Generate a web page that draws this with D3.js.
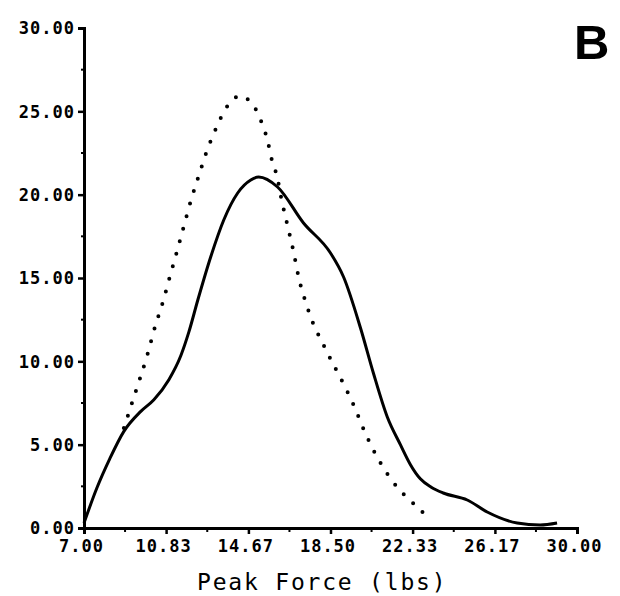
<!DOCTYPE html>
<html>
<head>
<meta charset="utf-8">
<script src="https://cdn.jsdelivr.net/npm/d3@7"></script>
<style>
  html, body { margin: 0; padding: 0; background: #fff; }
  svg { display: block; }
</style>
</head>
<body>
<svg id="chart" width="620" height="596"></svg>
<script>
/*
Data
*/

// x ticks (lbs) and y ticks
var xTicks = [7.00, 10.83, 14.67, 18.50, 22.33, 26.17, 30.00];
var xTickLabels = ["7.00", "10.83", "14.67", "18.50", "22.33", "26.17", "30.00"];
var yTicks = [0, 5, 10, 15, 20, 25, 30];
var yTickLabels = ["0.00", "5.00", "10.00", "15.00", "20.00", "25.00", "30.00"];

// solid curve
var solidX = [7.00, 7.60, 8.20, 8.86, 9.65, 10.26, 10.96, 11.52, 11.89, 12.31, 12.91, 13.52, 14.17, 14.78, 15.15, 16.03, 17.24, 18.50, 19.11, 19.90, 20.50, 21.15, 21.76, 22.23, 22.69, 23.20, 23.76, 24.88, 25.81, 27.21, 28.28, 29.07];
var solidY = [0.3, 2.4, 4.15, 5.8, 7.0, 7.7, 8.9, 10.35, 11.75, 13.68, 16.26, 18.48, 20.1, 20.88, 21.06, 20.46, 18.3, 16.5, 15.06, 12.0, 9.3, 6.66, 5.0, 3.8, 2.95, 2.45, 2.1, 1.68, 0.96, 0.3, 0.18, 0.3];

// dotted curve
var dottedX = [8.86, 9.42, 9.98, 10.31, 10.68, 11.00, 11.33, 11.66, 11.98, 12.35, 12.73, 13.19, 13.47, 13.80, 14.26, 14.78, 15.10, 15.33, 15.52, 15.80, 15.99, 16.22, 16.50, 16.78, 17.01, 17.34, 17.76, 17.99, 18.55, 19.11, 19.62, 20.08, 20.60, 21.25, 22.04, 22.50, 22.97];
var dottedY = [6.0, 8.22, 10.5, 12.06, 13.56, 15.06, 16.56, 18.12, 19.62, 21.12, 22.62, 24.06, 24.84, 25.5, 25.92, 25.56, 24.9, 24.18, 23.46, 21.9, 21.18, 19.68, 18.12, 16.56, 15.06, 13.56, 12.06, 11.46, 10.02, 8.64, 7.26, 5.82, 4.44, 3.06, 1.86, 1.32, 0.72];

/*
Prototype
*/

var Chart = function (config) {
  return this.__init__(config);
};

Chart.prototype = {

  __init__ : function (config) {
    let self = this;

    self.id = config.id;
    self.left = 84;
    self.right = 577;
    self.top = 28;
    self.bottom = 528;

    self.x = d3.scaleLinear().domain([7, 30]).range([self.left, self.right]);
    self.y = d3.scaleLinear().domain([0, 30]).range([self.bottom, self.top]);

    return self;
  },

  update : function () {
    let self = this;
    let x = self.x, y = self.y;

    self.svg = d3.select(self.id);

    // y axis
    let gy = self.svg.append("g")
      .attr("transform", "translate(" + self.left + ",0)")
      .call(d3.axisLeft(y).tickValues(yTicks).tickSize(6)
        .tickFormat((d, i) => yTickLabels[i]));

    // x axis
    let gx = self.svg.append("g")
      .attr("transform", "translate(0," + self.bottom + ")")
      .call(d3.axisBottom(x).tickValues(xTicks).tickSize(6)
        .tickFormat((d, i) => xTickLabels[i]));

    [gx, gy].forEach(function (g) {
      g.select(".domain").attr("stroke", "#000").attr("stroke-width", 3);
      g.selectAll(".tick line").attr("stroke", "#000").attr("stroke-width", 2.5);
      g.selectAll("text")
        .attr("fill", "#000")
        .style("font-family", "'DejaVu Sans Mono', monospace")
        .style("font-weight", "bold")
        .style("font-size", "17px")
        .style("letter-spacing", "1px");
    });

    gy.selectAll(".tick text").attr("x", -9).attr("dy", "0.35em");
    gx.selectAll(".tick text").attr("y", 12).attr("dx", -3).attr("dy", "0.71em");

    // minor ticks
    let minorX = d3.range(xTicks.length - 1).map(i => (xTicks[i] + xTicks[i + 1]) / 2);
    let minorY = d3.range(yTicks.length - 1).map(i => (yTicks[i] + yTicks[i + 1]) / 2);

    self.svg.append("g").selectAll("line")
      .data(minorX).enter().append("line")
      .attr("x1", d => x(d)).attr("x2", d => x(d))
      .attr("y1", self.bottom).attr("y2", self.bottom + 4)
      .attr("stroke", "#000").attr("stroke-width", 2);

    self.svg.append("g").selectAll("line")
      .data(minorY).enter().append("line")
      .attr("x1", self.left).attr("x2", self.left - 3)
      .attr("y1", d => y(d)).attr("y2", d => y(d))
      .attr("stroke", "#000").attr("stroke-width", 2);

    let line = d3.line()
      .x(d => x(d[0]))
      .y(d => y(d[1]))
      .curve(d3.curveMonotoneX);

    // dotted series
    self.svg.append("path")
      .datum(d3.zip(dottedX, dottedY))
      .attr("d", line)
      .attr("fill", "none")
      .attr("stroke", "#000")
      .attr("stroke-width", 4)
      .attr("stroke-linecap", "round")
      .attr("stroke-dasharray", "0 13");

    // solid series
    self.svg.append("path")
      .datum(d3.zip(solidX, solidY))
      .attr("d", line)
      .attr("fill", "none")
      .attr("stroke", "#000")
      .attr("stroke-width", 3)
      .attr("stroke-linejoin", "round");

    // axis title
    self.svg.append("text")
      .attr("x", 197)
      .attr("y", 590)
      .style("font-family", "'DejaVu Sans Mono', monospace")
      .style("font-size", "23px")
      .style("letter-spacing", "1.8px")
      .text("Peak Force (lbs)");

    // panel letter
    self.svg.append("text")
      .attr("x", 574)
      .attr("y", 59)
      .style("font-family", "'Liberation Sans', Arial, sans-serif")
      .style("font-weight", "bold")
      .style("font-size", "49px")
      .text("B");

    return self;
  }

};

new Chart({ id: "#chart" }).update();
</script>
</body>
</html>
